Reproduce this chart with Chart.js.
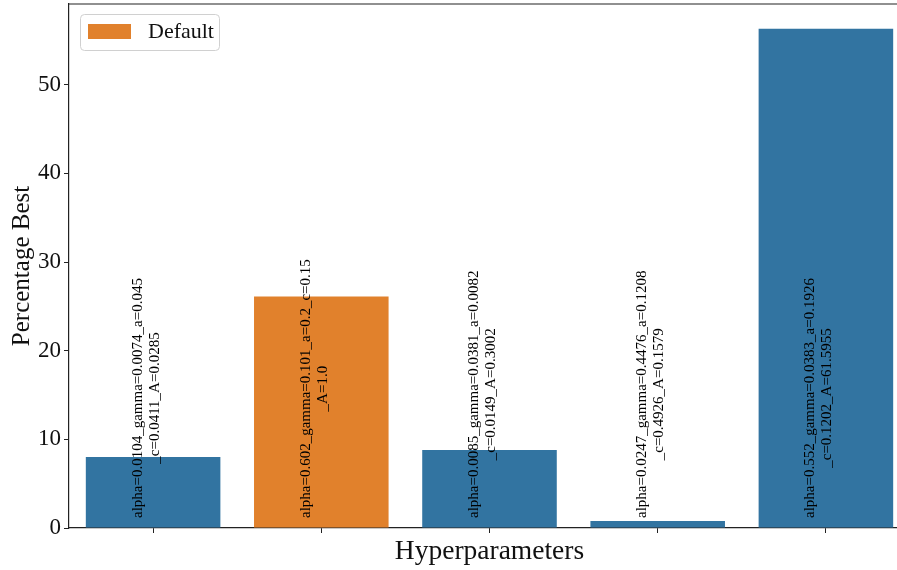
<!DOCTYPE html>
<html>
<head>
<meta charset="utf-8">
<script src="https://cdn.jsdelivr.net/npm/chart.js@4/dist/chart.umd.min.js"></script>
<style>
  html, body { margin: 0; padding: 0; width: 897px; height: 570px; overflow: hidden; background: #fff; }
  #myChart { position: absolute; left: 0; top: -28px; }
</style>
</head>
<body>
<canvas id="myChart" width="910" height="598"></canvas>
<script>
// bar names, two lines each as they are written on the bars
const categories = [
  ["alpha=0.0104_gamma=0.0074_a=0.045", "_c=0.0411_A=0.0285"],
  ["alpha=0.602_gamma=0.101_a=0.2_c=0.15", "_A=1.0"],
  ["alpha=0.0085_gamma=0.0381_a=0.0082", "_c=0.0149_A=0.3002"],
  ["alpha=0.0247_gamma=0.4476_a=0.1208", "_c=0.4926_A=0.1579"],
  ["alpha=0.552_gamma=0.0383_a=0.1926", "_c=0.1202_A=61.5955"]
];
const percentBest = [8.0, 26.1, 8.8, 0.8, 56.3];
const isDefault = [false, true, false, false, false];
const legendLabel = "Default";
const yTicks = [0, 10, 20, 30, 40, 50];
const yMax = 59.1;

const blue = "#3274a1";
const orange = "#e1812c";
const serif = "'Liberation Serif', 'DejaVu Serif', serif";
const ink = "#111";

// legend box in the upper left corner, like matplotlib's
const legendBox = {
  id: "legendBox",
  afterDatasetsDraw(chart) {
    const ctx = chart.ctx;
    const a = chart.chartArea;
    ctx.save();
    ctx.fillStyle = "rgba(255,255,255,0.8)";
    ctx.strokeStyle = "#d0d0d0";
    ctx.lineWidth = 1;
    ctx.beginPath();
    ctx.roundRect(a.left + 11.5, a.top + 10.5, 139, 36, 4);
    ctx.fill();
    ctx.stroke();
    ctx.fillStyle = orange;
    ctx.fillRect(a.left + 19, a.top + 20, 43, 15);
    ctx.fillStyle = ink;
    ctx.font = "22px " + serif;
    ctx.textBaseline = "middle";
    ctx.fillText(legendLabel, a.left + 79, a.top + 28.5);
    ctx.restore();
  }
};

const topSpine = {
  id: "topSpine",
  afterDraw(chart) {
    const ctx = chart.ctx;
    const a = chart.chartArea;
    ctx.save();
    ctx.strokeStyle = "#222";
    ctx.lineWidth = 1.2;
    ctx.beginPath();
    ctx.moveTo(a.left, a.top);
    ctx.lineTo(a.right, a.top);
    ctx.lineTo(a.right, a.bottom);
    ctx.stroke();
    ctx.restore();
  }
};

const barText = {
  id: "barText",
  afterDatasetsDraw(chart) {
    const ctx = chart.ctx;
    const x = chart.scales.x;
    const y = chart.scales.y;
    ctx.save();
    ctx.font = "15px " + serif;
    ctx.fillStyle = "#000";
    ctx.textAlign = "center";
    ctx.textBaseline = "middle";
    categories.forEach((lines, i) => {
      const cx = x.getPixelForValue(i);
      const base = y.getPixelForValue(0) - 10;
      const w = ctx.measureText(lines[0]).width;
      ctx.save();
      ctx.translate(cx, base - w / 2);
      ctx.rotate(-Math.PI / 2);
      ctx.fillText(lines[0], 0, -15.5);
      ctx.fillText(lines[1], 0, 1.5);
      ctx.restore();
    });
    ctx.restore();
  }
};

const ctx = document.getElementById("myChart").getContext("2d");
const myChart = new Chart(ctx, {
  type: "bar",
  data: {
    labels: categories.map(c => c.join("")),
    datasets: [{
      label: legendLabel,
      data: percentBest,
      backgroundColor: isDefault.map(d => d ? orange : blue),
      borderWidth: 0,
      barPercentage: 0.8,
      categoryPercentage: 1.0
    }]
  },
  options: {
    responsive: false,
    animation: false,
    layout: { padding: 0 },
    plugins: {
      tooltip: { enabled: false },
      legend: { display: false },
      title: {
        display: true,
        text: "Hyperparameters Best Comparison Across Runs",
        fullSize: false,
        color: ink,
        font: { family: serif, size: 25, weight: "normal", lineHeight: 1.2 },
        padding: { top: 0, bottom: 2 }
      }
    },
    scales: {
      x: {
        offset: true,
        grid: { offset: false, drawOnChartArea: false, drawTicks: true, tickLength: 5, color: "#222" },
        border: { display: true, color: "#222", width: 1.2 },
        ticks: { callback: () => "", padding: 0 },
        title: {
          display: true,
          text: "Hyperparameters",
          color: ink,
          font: { family: serif, size: 27.5, lineHeight: 1 },
          padding: { top: 0, bottom: 4 }
        },
        afterFit: scale => { scale.height = 42; }
      },
      y: {
        min: 0,
        max: yMax,
        afterBuildTicks: scale => { scale.ticks = yTicks.map(v => ({ value: v })); },
        grid: { drawOnChartArea: false, drawTicks: true, tickLength: 5, color: "#222" },
        border: { display: true, color: "#222", width: 1.2 },
        ticks: { color: ink, padding: 3, font: { family: serif, size: 23 } },
        title: {
          display: true,
          text: "Percentage Best",
          color: ink,
          font: { family: serif, size: 25, lineHeight: 1 },
          padding: { top: 10, bottom: 0 }
        },
        afterFit: scale => { scale.width = 69; }
      }
    }
  },
  plugins: [barText, legendBox, topSpine]
});
</script>
</body>
</html>
